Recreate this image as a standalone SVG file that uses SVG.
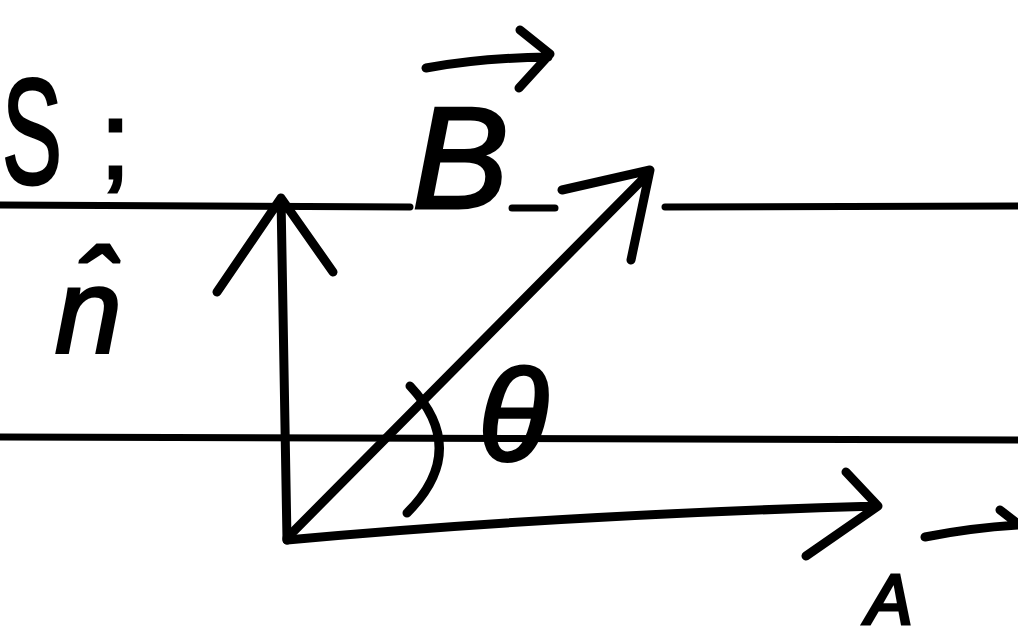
<svg xmlns="http://www.w3.org/2000/svg" width="1018" height="643" viewBox="0 0 1018 643">
<style>
.ln{fill:none;stroke:#000;stroke-width:7;stroke-linecap:round;stroke-linejoin:round}
.ar{fill:none;stroke:#000;stroke-width:9;stroke-linecap:round;stroke-linejoin:round}
.t{font-family:"Liberation Sans",Arial,sans-serif;fill:#000;stroke:#000;stroke-width:3}
</style>
<rect width="1018" height="643" fill="#fff"/>
<g id="surface-lines">
<path class="ln" d="M0 205 L410 207 M512 208 L555 208 M665 207 L1018 206"/>
<path class="ln" d="M0 437 L1018 440"/>
</g>
<g id="connectors">
<path class="ar" d="M287 540 L281 198 M217 292 L281 198 L333 272"/>
<path class="ar" d="M287 538 L648 174 M562 190 L650 170 L631 260"/>
<path class="ar" d="M287 540 Q560 515 878 506 M846 472 L878 506 L806 556"/>
<path class="ar" d="M410 386 Q470 450 407 513"/>
</g>
<g id="label-S"><text class="t" x="0" y="184" font-size="150" transform="translate(2 0) scale(0.6 1)">S</text></g>
<g id="label-colon"><text class="t" x="100" y="178" font-size="110">;</text></g>
<g id="label-n"><text class="t" x="55" y="353" font-size="120" font-style="italic">n̂</text></g>
<g id="label-B"><text class="t" x="412" y="208" font-size="145" font-style="italic">B</text><path class="ar" d="M426 68 Q480 58 548 57 M520 30 L550 54 L519 88"/></g>
<g id="label-theta"><text class="t" x="478" y="460" font-size="130" font-style="italic">θ</text></g>
<g id="label-A"><text class="t" x="866" y="624" font-size="70" font-style="italic">A</text><path class="ar" d="M925 537 Q970 528 1018 525 M1000 510 L1018 524"/></g>
</svg>
